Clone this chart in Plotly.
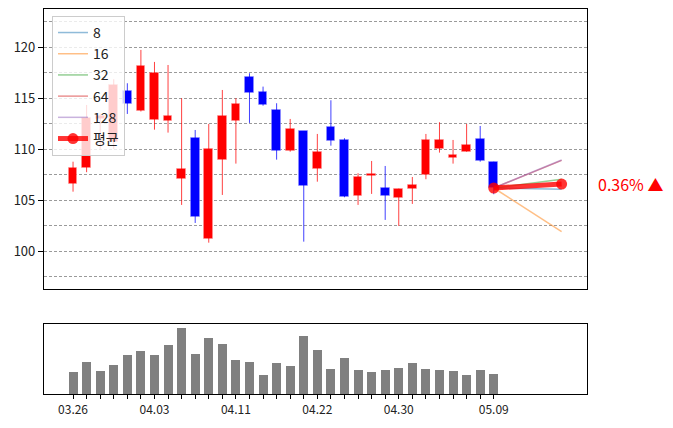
import plotly.graph_objects as go

# ---------------- data ----------------
dates = ["03.26", "03.27", "03.28", "03.29", "04.01", "04.02", "04.03", "04.04",
         "04.05", "04.08", "04.09", "04.10", "04.11", "04.12", "04.15", "04.16",
         "04.17", "04.18", "04.22", "04.23", "04.24", "04.25", "04.26", "04.29",
         "04.30", "05.01", "05.02", "05.03", "05.06", "05.07", "05.08", "05.09"]
label_dates = ["03.26", "04.03", "04.11", "04.22", "04.30", "05.09"]

opens = [106.60, 108.14, 112.97, 110.75, 115.72, 113.75, 112.87, 112.80,
         107.12, 111.14, 101.21, 108.95, 112.77, 117.12, 115.62, 113.85,
         109.83, 111.79, 108.07, 112.19, 110.91, 105.42, 107.38, 106.21,
         105.25, 106.14, 107.48, 110.06, 109.18, 109.76, 111.01, 108.78]
highs = [108.78, 114.34, 113.50, 116.86, 116.47, 119.74, 118.56, 118.26,
         115.00, 111.89, 112.48, 115.81, 115.00, 117.45, 116.14, 114.51,
         112.97, 111.79, 111.50, 114.80, 111.08, 107.65, 108.85, 108.36,
         106.14, 107.28, 111.50, 112.65, 110.91, 112.48, 112.28, 108.78]
lows = [105.84, 107.75, 110.03, 110.03, 113.46, 113.70, 111.92, 111.63,
        104.54, 102.77, 100.84, 105.52, 108.59, 112.58, 114.27, 108.98,
        109.76, 100.94, 106.82, 110.35, 105.29, 104.54, 105.62, 103.07,
        102.48, 104.64, 107.06, 109.67, 108.59, 109.76, 108.78, 105.59]
closes = [108.14, 113.10, 113.26, 116.30, 114.44, 118.17, 117.48, 113.29,
          108.07, 103.36, 110.03, 113.29, 114.47, 115.52, 114.37, 109.86,
          111.99, 106.43, 109.76, 110.84, 105.29, 107.28, 107.61, 105.45,
          106.14, 106.50, 110.91, 110.91, 109.44, 110.42, 108.88, 106.20]
volumes = [67, 97, 70, 88, 118, 130, 118, 148, 199, 121, 169, 151, 103, 97, 58, 94,
           85, 175, 133, 76, 109, 73, 67, 73, 79, 94, 76, 73, 70, 58, 73, 61]

horizons = ["8", "16", "32", "64", "128"]
forecast_end = [106.08, 101.92, 107.06, 108.91, 108.95]
forecast_steps = 5
mean_label = "평균"

# ---------------- styling ----------------
FONT = "Noto Sans CJK KR"
UP, DOWN = "#ff0000", "#0000ff"
line_colors = ["rgba(31,119,180,0.5)", "rgba(255,127,14,0.5)", "rgba(44,160,44,0.5)",
               "rgba(214,39,40,0.5)", "rgba(148,103,189,0.5)"]
GRID_DASH = "3px,2px"

n = len(dates)
xs = list(range(n))
up_idx = [i for i in xs if closes[i] >= opens[i]]
dn_idx = [i for i in xs if closes[i] < opens[i]]

fig = go.Figure()

# bodies
for idx, col, edge in [(up_idx, UP, "rgba(255,150,150,0.5)"), (dn_idx, DOWN, "rgba(150,150,255,0.5)")]:
    fig.add_trace(go.Bar(
        x=idx,
        base=[min(opens[i], closes[i]) for i in idx],
        y=[abs(closes[i] - opens[i]) for i in idx],
        width=0.64, marker=dict(color=col, line=dict(color=edge, width=1)),
        showlegend=False, hoverinfo="skip", xaxis="x", yaxis="y"))

# wicks
for idx, col in [(up_idx, "rgba(255,0,0,0.75)"), (dn_idx, "rgba(0,0,255,0.75)")]:
    wx, wy = [], []
    for i in idx:
        wx += [i, i, None]
        wy += [lows[i], highs[i], None]
    fig.add_trace(go.Scatter(x=wx, y=wy, mode="lines", line=dict(color=col, width=1),
                             showlegend=False, hoverinfo="skip", xaxis="x", yaxis="y"))

# forecast lines
last_x = xs[-1]
last_close = closes[-1]
for k, (h, end) in enumerate(zip(horizons, forecast_end)):
    fig.add_trace(go.Scatter(
        x=[last_x, last_x + forecast_steps], y=[last_close, end], mode="lines",
        line=dict(color=line_colors[k], width=1.5), name=h,
        legendgroup=h, xaxis="x", yaxis="y"))

mean_end = sum(forecast_end) / len(forecast_end)
fig.add_trace(go.Scatter(
    x=[last_x, last_x + forecast_steps], y=[last_close, mean_end], mode="lines+markers",
    line=dict(color="rgba(255,0,0,0.8)", width=5),
    marker=dict(color="rgba(255,0,0,0.8)", size=11), name=mean_label,
    legendgroup="mean", xaxis="x", yaxis="y"))

# volume
fig.add_trace(go.Bar(x=xs, y=volumes, width=0.66, marker=dict(color="#808080", line=dict(width=0)),
                     showlegend=False, hoverinfo="skip", xaxis="x2", yaxis="y2"))

pct = (mean_end / last_close - 1) * 100
fig.add_annotation(x=1.016, xref="paper", xanchor="left", y=mean_end, yref="y",
                   text=f"{pct:.2f}% ▲", showarrow=False,
                   font=dict(color="#ff0000", size=16, family=FONT))

xr = [-2.14, 37.87]
tickvals = xs
ticktext = [d if d in label_dates else "" for d in dates]

# page body has an 8px default margin, so the figure is sized/offset for that
fig.update_layout(
    width=665, height=420,
    margin=dict(l=36, r=86, t=1, b=34, autoexpand=False),
    paper_bgcolor="white", plot_bgcolor="white",
    font=dict(family=FONT, size=13, color="#222"),
    barmode="overlay", bargap=0,
    showlegend=True,
    legend=dict(x=0.0147, y=0.982, xanchor="left", yanchor="top",
                bgcolor="rgba(255,255,255,0.8)", bordercolor="#cccccc", borderwidth=1,
                font=dict(size=14, family=FONT), tracegroupgap=5, traceorder="normal"),
    xaxis=dict(domain=[0, 1], range=xr, showticklabels=False, ticks="", automargin=False,
               showgrid=False, zeroline=False, showline=True, mirror=True,
               linecolor="black", linewidth=1.2, anchor="y"),
    yaxis=dict(domain=[0.272, 1], range=[96.27, 123.75], dtick=5, tick0=100,
               ticks="outside", ticklen=5, tickcolor="black", automargin=False,
               tickfont=dict(size=13, family=FONT, color="#222"),
               showgrid=True, gridcolor="#9a9a9a", griddash=GRID_DASH, gridwidth=0.8,
               minor=dict(dtick=2.5, tick0=97.5, showgrid=True, gridcolor="#9a9a9a",
                          griddash=GRID_DASH, gridwidth=0.8, ticks=""),
               zeroline=False, showline=True, mirror=True, linecolor="black",
               linewidth=1.2, anchor="x"),
    xaxis2=dict(domain=[0, 1], range=xr, tickmode="array", tickvals=tickvals,
                ticktext=ticktext, ticks="outside", ticklen=4, tickcolor="black",
                tickfont=dict(size=12, family=FONT, color="#222"), automargin=False,
                showgrid=False, zeroline=False, showline=True, mirror=True,
                linecolor="black", linewidth=1.2, anchor="y2"),
    yaxis2=dict(domain=[0, 0.1818], range=[0, max(volumes) * 1.055], automargin=False,
                showticklabels=False, ticks="", showgrid=False, zeroline=False,
                showline=True, mirror=True, linecolor="black", linewidth=1.2, anchor="x2"),
)

fig.write_html("out.html")
